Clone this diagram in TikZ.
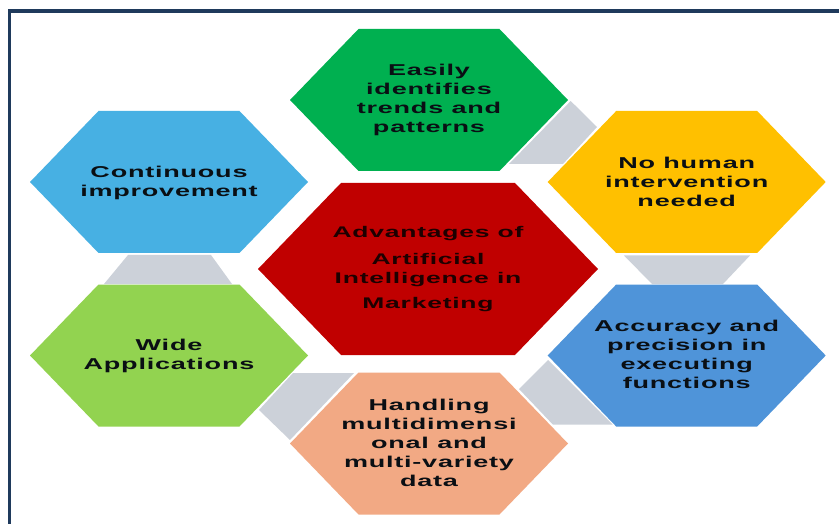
\documentclass[tikz,border=0pt]{standalone}
\usepackage{fontspec}
\setmainfont[FakeStretch=1.72,LetterSpace=5]{Liberation Sans}
\definecolor{framec}{HTML}{1F3A5C}
\definecolor{linkc}{HTML}{CCD1D9}
\definecolor{cgreen}{HTML}{00B050}
\definecolor{cyellow}{HTML}{FFC000}
\definecolor{cred}{HTML}{C00000}
\definecolor{csky}{HTML}{47B0E3}
\definecolor{cblue}{HTML}{4F94D9}
\definecolor{clime}{HTML}{92D350}
\definecolor{corange}{HTML}{F2A984}
\definecolor{ctext}{HTML}{0A0F14}
\tikzset{
  x=1pt,y=-1pt,
  hexlabel/.style={align=center,font=\bfseries\fontsize{15.7}{19}\selectfont,text=ctext,inner sep=0pt},
  redline/.style={hexlabel,font=\bfseries\fontsize{15.4}{19}\selectfont,text=black!85!cred},
  linkshape/.style={fill=linkc,draw=none}
}
% \hexa{colour}{centre x}{centre y}{half width}{half height}{corner inset}
\newcommand{\hexa}[6]{\fill[#1] (#2-#4,#3) -- (#2-#4+#6,#3-#5) -- (#2+#4-#6,#3-#5) -- (#2+#4,#3) -- (#2+#4-#6,#3+#5) -- (#2-#4+#6,#3+#5) -- cycle;}
\begin{document}
\begin{tikzpicture}
\useasboundingbox (0,0) rectangle (839,524);
\fill[white] (0,0) rectangle (839,524);
% frame
\fill[framec] (8,9) rectangle (839,13.3);
\fill[framec] (8,9) rectangle (11.3,524);
% grey links
\fill[linkshape] (570.7,101) -- (597,127) -- (563,164) -- (509,164) -- cycle;
\fill[linkshape] (624,255.5) -- (750,255.5) -- (723,284) -- (652,284) -- cycle;
\fill[linkshape] (548,360) -- (612.7,424.7) -- (553,424.7) -- (519,389) -- cycle;
\fill[linkshape] (354,373) -- (290,440) -- (259,410) -- (293,373) -- cycle;
\fill[linkshape] (104,284) -- (232,284) -- (211,255) -- (128,255) -- cycle;
% hexagons
\hexa{cgreen}{429}{100}{139}{71}{68.5}
\hexa{cyellow}{686.7}{182}{139}{71}{68.5}
\hexa{csky}{169}{182}{139}{71}{68.5}
\hexa{cred}{428}{269}{170}{86}{83}
\hexa{cblue}{686.7}{355.5}{139}{71}{68.5}
\hexa{clime}{169}{355.5}{139}{71}{68.5}
\hexa{corange}{429}{443.5}{139}{71}{68.5}
% labels
\node[hexlabel] (green) at (429,100) {Easily\\identifies\\trends and\\patterns};
\node[hexlabel] (yellow) at (686.7,182) {No human\\intervention\\needed};
\node[hexlabel] (sky) at (169,182.5) {Continuous\\improvement};
\node[hexlabel] (blue) at (686.7,354.5) {Accuracy and\\precision in\\executing\\functions};
\node[hexlabel] (lime) at (169,355.5) {Wide\\Applications};
\node[hexlabel] (orange) at (429,443) {Handling\\multidimensi\\onal and\\multi-variety\\data};
\node[redline] (r1) at (428,233.5) {Advantages of};
\node[redline] (r2) at (428,259) {Artificial};
\node[redline] (r3) at (428,279.5) {Intelligence in};
\node[redline] (r4) at (428,305) {Marketing};
\end{tikzpicture}
\end{document}
